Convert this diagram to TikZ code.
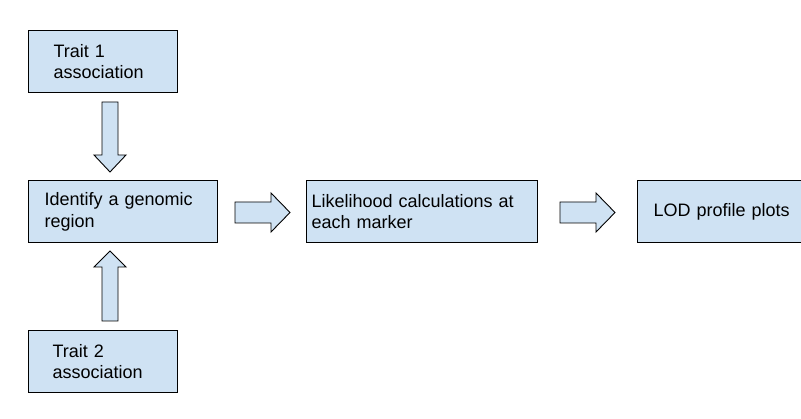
\documentclass[tikz,border=0pt]{standalone}
\usepackage{fontspec}
\setmainfont{Liberation Sans}
\definecolor{boxfill}{HTML}{CFE2F3}
\begin{document}
\begin{tikzpicture}[x=1pt,y=-1pt,
  box/.style={draw=black, line width=1.3pt, fill=boxfill, anchor=north west,
    minimum height=62pt, align=left, inner ysep=0pt,
    font=\fontsize{18}{21.5}\selectfont},
  blockarrow/.style={draw=black, line width=0.9pt, fill=boxfill, line join=miter}]
\useasboundingbox (0,0) rectangle (801,419);
\clip (0,0) rectangle (801,419);
% boxes
\node[box, minimum width=149pt, inner xsep=25pt, text width=99pt] (t1) at (28,30) {Trait 1\\association};
\node[box, minimum width=189pt, inner xsep=16pt, text width=157pt] (id) at (28,180) {Identify a genomic\\region};
\node[box, minimum width=231pt, inner xsep=5pt, text width=221pt] (lk) at (306,180) {Likelihood calculations at\\each marker};
\node[box, minimum width=184pt, inner xsep=16pt, text width=152pt] (lod) at (637,180) {LOD profile plots};
\node[box, minimum width=149pt, inner xsep=24pt, text width=101pt] (t2) at (28,330) {Trait 2\\association};
% block arrows
\draw[blockarrow] (102,102) -- (118,102) -- (118,155) -- (126,155) -- (110,172) -- (94,155) -- (102,155) -- cycle;
\draw[blockarrow] (102,321) -- (118,321) -- (118,267) -- (126,267) -- (110,251) -- (94,267) -- (102,267) -- cycle;
\draw[blockarrow] (235,202) -- (271,202) -- (271,193) -- (290,212.5) -- (271,232) -- (271,223) -- (235,223) -- cycle;
\draw[blockarrow] (560,202) -- (596,202) -- (596,193) -- (615,212.5) -- (596,232) -- (596,223) -- (560,223) -- cycle;
\end{tikzpicture}
\end{document}
